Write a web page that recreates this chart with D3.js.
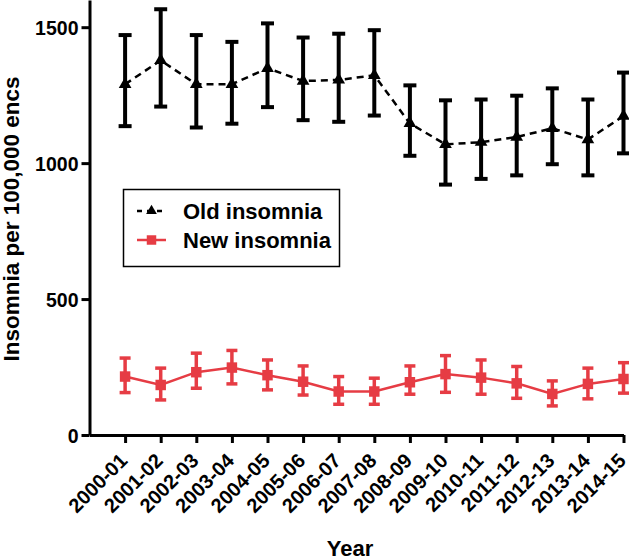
<!DOCTYPE html>
<html>
<head>
<meta charset="utf-8">
<script src="https://cdn.jsdelivr.net/npm/d3@7"></script>
<style>
	body { margin: 0; background: #fff; }
	svg { font-family: "Liberation Sans", Arial, sans-serif; font-weight: bold; }
</style>
</head>
<body>
<svg id="chart" width="629" height="560"></svg>
<script>
var years = ['2000-01', '2001-02', '2002-03', '2003-04', '2004-05', '2005-06', '2006-07', '2007-08',
	'2008-09', '2009-10', '2010-11', '2011-12', '2012-13', '2013-14', '2014-15'];

var old_mean = [1290, 1378, 1290, 1290, 1349, 1302, 1306, 1323, 1146, 1069, 1077, 1096, 1128, 1087, 1173];
var old_upper = [1471, 1566, 1471, 1446, 1514, 1462, 1476, 1489, 1286, 1231, 1234, 1248, 1275, 1234, 1333];
var old_lower = [1136, 1208, 1131, 1145, 1206, 1158, 1152, 1175, 1027, 921, 942, 955, 996, 955, 1036];

var new_mean = [215, 184, 231, 248, 220, 196, 160, 160, 194, 224, 211, 190, 151, 188, 206];
var new_upper = [283, 246, 301, 311, 276, 254, 215, 209, 254, 292, 276, 252, 199, 246, 266];
var new_lower = [156, 129, 172, 188, 166, 147, 113, 113, 150, 157, 150, 135, 107, 133, 154];

var y_ticks = [0, 500, 1000, 1500];

var RED = '#e63c44';

var svg = d3.select('#chart');

var x = d3.scaleLinear().domain([-1, years.length - 1]).range([89.5, 623.5]);
var y = d3.scaleLinear().domain([0, 1600]).range([435, 0]);

function draw_axes()
{
	var ya = svg.append('g')
		.attr('transform', 'translate(89.5,0)')
		.call(d3.axisLeft(y).tickValues(y_ticks).tickFormat(d3.format('d'))
			.tickSize(8).tickSizeOuter(0).tickPadding(3));

	var xa = svg.append('g')
		.attr('transform', 'translate(0,435)')
		.call(d3.axisBottom(x).tickValues(d3.range(years.length)).tickSize(8).tickSizeOuter(0)
			.tickFormat(function(i) { return years[i]; }));

	[ya, xa].forEach(function(a)
	{
		a.select('.domain').attr('stroke', '#000').attr('stroke-width', 3);
		a.selectAll('.tick line').attr('stroke', '#000').attr('stroke-width', 3);
		a.selectAll('text').attr('fill', '#000').style('font-size', '19.5px').style('font-weight', 'bold');
	});

	ya.selectAll('text').attr('dy', '0.36em');

	xa.selectAll('.tick text')
		.style('font-size', '20px')
		.attr('text-anchor', 'end')
		.attr('x', 0)
		.attr('y', 0)
		.attr('dy', 0)
		.attr('transform', 'translate(3,27) rotate(-45)');

	svg.append('text')
		.attr('transform', 'translate(19,219) rotate(-90)')
		.attr('text-anchor', 'middle')
		.style('font-size', '22.5px')
		.text('Insomnia per 100,000 encs');

	svg.append('text')
		.attr('x', 350)
		.attr('y', 556)
		.attr('text-anchor', 'middle')
		.style('font-size', '22px')
		.text('Year');
}

function draw_series(mean, lower, upper, opts)
{
	var g = svg.append('g');
	var idx = d3.range(mean.length);

	var line = d3.line()
		.x(function(i) { return x(i); })
		.y(function(i) { return y(mean[i]); });

	g.append('path')
		.datum(idx)
		.attr('d', line)
		.attr('fill', 'none')
		.attr('stroke', opts.color)
		.attr('stroke-width', opts.line_width)
		.attr('stroke-dasharray', opts.dash);

	var bars = g.selectAll('.err').data(idx).enter().append('g');

	bars.append('line')
		.attr('x1', function(i) { return x(i); })
		.attr('x2', function(i) { return x(i); })
		.attr('y1', function(i) { return y(lower[i]); })
		.attr('y2', function(i) { return y(upper[i]); })
		.attr('stroke', opts.color)
		.attr('stroke-width', opts.bar_width);

	[lower, upper].forEach(function(v)
	{
		bars.append('line')
			.attr('x1', function(i) { return x(i) - opts.cap / 2; })
			.attr('x2', function(i) { return x(i) + opts.cap / 2; })
			.attr('y1', function(i) { return y(v[i]); })
			.attr('y2', function(i) { return y(v[i]); })
			.attr('stroke', opts.color)
			.attr('stroke-width', opts.bar_width);
	});

	bars.append('path')
		.attr('d', d3.symbol().type(opts.symbol).size(opts.symbol_size))
		.attr('transform', function(i) { return 'translate(' + x(i) + ',' + y(mean[i]) + ')'; })
		.attr('fill', opts.color);
}

function draw_legend()
{
	var g = svg.append('g');

	g.append('rect')
		.attr('x', 123.5)
		.attr('y', 189.5)
		.attr('width', 216)
		.attr('height', 77)
		.attr('fill', '#fff')
		.attr('stroke', '#000')
		.attr('stroke-width', 1.5);

	var rows = [
		{ label: 'Old insomnia', color: '#000', dash: '5,5', symbol: d3.symbolTriangle, size: 50, y: 211 },
		{ label: 'New insomnia', color: RED, dash: null, symbol: d3.symbolSquare, size: 90, y: 240 }
	];

	rows.forEach(function(r)
	{
		g.append('line')
			.attr('x1', 137)
			.attr('x2', 166)
			.attr('y1', r.y)
			.attr('y2', r.y)
			.attr('stroke', r.color)
			.attr('stroke-width', 2.5)
			.attr('stroke-dasharray', r.dash);

		g.append('path')
			.attr('d', d3.symbol().type(r.symbol).size(r.size))
			.attr('transform', 'translate(151.5,' + r.y + ')')
			.attr('fill', r.color);

		g.append('text')
			.attr('x', 183)
			.attr('y', r.y + 8)
			.style('font-size', '22px')
			.text(r.label);
	});
}

draw_axes();

draw_series(new_mean, new_lower, new_upper,
	{ color: RED, line_width: 2.5, dash: null, bar_width: 3.5, cap: 11, symbol: d3.symbolSquare, symbol_size: 110 });

draw_series(old_mean, old_lower, old_upper,
	{ color: '#000', line_width: 2.5, dash: '7,5', bar_width: 4, cap: 13, symbol: d3.symbolTriangle, symbol_size: 70 });

draw_legend();
</script>
</body>
</html>
